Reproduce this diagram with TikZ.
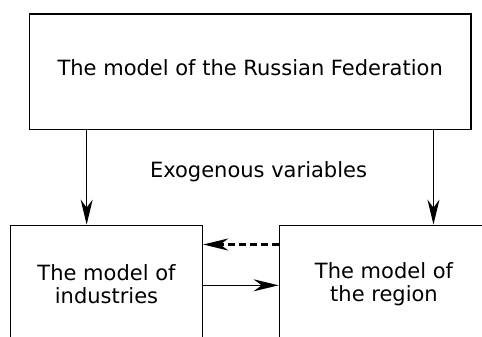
\documentclass[tikz,border=0pt]{standalone}
\usepackage{fontspec}
\setmainfont{DejaVu Sans}
\usetikzlibrary{arrows.meta}

\begin{document}
\begin{tikzpicture}[
  x=1bp, y=-1bp,
  every node/.style={align=center, font=\fontsize{21bp}{23bp}\selectfont},
  model/.style={rectangle, draw, line width=1.4bp, inner sep=0pt},
  arrow/.style={-{Stealth[length=25bp, width=12bp, inset=8bp]}, line width=1.4bp},
  feedback/.style={arrow, dashed, dash pattern=on 7bp off 4bp, line width=2.6bp}
]
\useasboundingbox (0,0) rectangle (482,336);

% Nodes
\node[model, minimum width=441.7bp, minimum height=115.3bp, text depth=8bp] (federation) at (250.2,71.7) {The model of the Russian Federation};
\node[model, minimum width=192bp, minimum height=118bp] (industries) at (106.5,284.3) {The model of\\industries};
\node[model, minimum width=209.4bp, minimum height=118bp] (region) at (384,284.3) {The model of\\the region};
\node[inner sep=0pt] (exogenous) at (258.5,171.5) {Exogenous variables};

% Arrows
\draw[arrow] ([xshift=58bp]federation.south west) -- ([xshift=58bp]federation.south west |- industries.north);
\draw[arrow] ([xshift=-38.3bp]federation.south east) -- ([xshift=-38.3bp]federation.south east |- region.north);

\draw[arrow] ([yshift=-1bp]industries.east) -- ([yshift=-1bp]industries.east -| region.west);
\draw[feedback] ([yshift=39.8bp]region.west) -- ([yshift=39.8bp]region.west -| industries.east);

\end{tikzpicture}
\end{document}
